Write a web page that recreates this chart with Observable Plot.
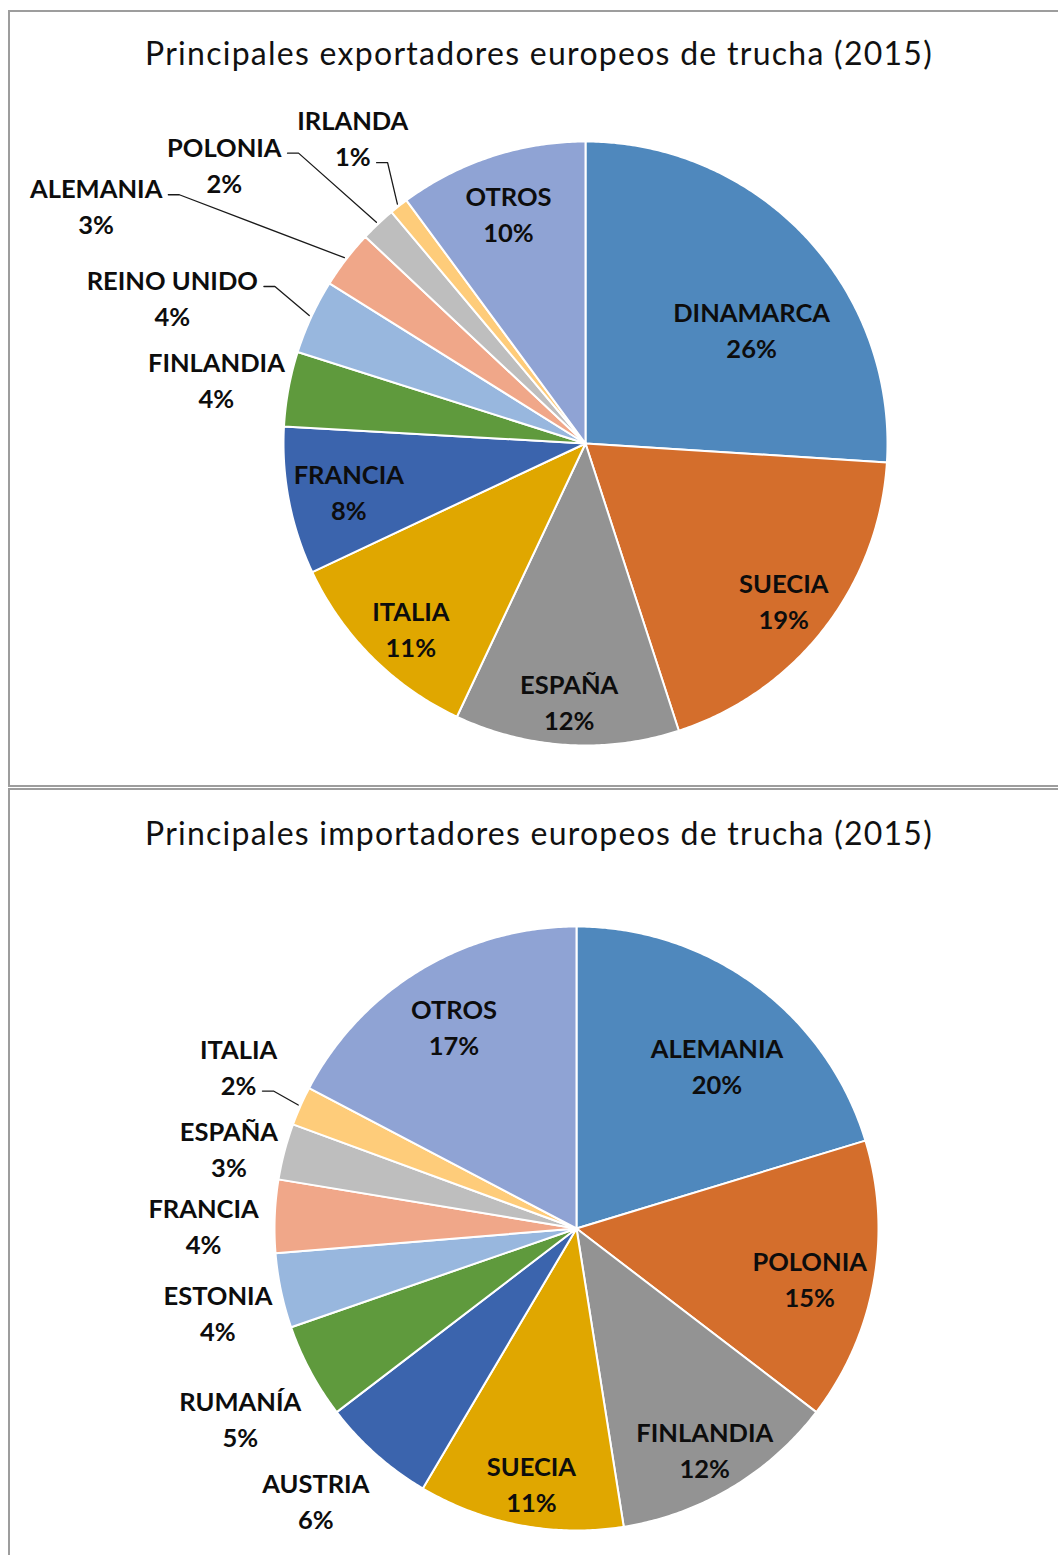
<!DOCTYPE html>
<html>
<head>
<meta charset="utf-8">
<script src="https://cdn.jsdelivr.net/npm/d3@7"></script>
<script src="https://cdn.jsdelivr.net/npm/@observablehq/plot@0.6"></script>
<style>
  html, body { margin: 0; padding: 0; background: #fff; }
  #page { position: relative; width: 1058px; height: 1555px; overflow: hidden; font-family: Lato, "Open Sans", sans-serif; }
  .panel { position: absolute; box-sizing: border-box; border-style: solid; border-color: #9d9d9d; }
  .title { position: absolute; left: 0; width: 1078px; text-align: center; white-space: nowrap; color: #111; font-weight: 400; line-height: 1; }
  .chart { position: absolute; left: 0; }
  .chart svg { display: block; overflow: visible; }
</style>
</head>
<body>
<div id="page"></div>
<script>
// ---------------- DATA ----------------
const expTitle = "Principales exportadores europeos de trucha (2015)";
const expCountries = ["DINAMARCA", "SUECIA", "ESPAÑA", "ITALIA", "FRANCIA", "FINLANDIA", "REINO UNIDO", "ALEMANIA", "POLONIA", "IRLANDA", "OTROS"];
const expShares = [26.0, 19.0, 12.0, 11.0, 7.9, 4.0, 4.0, 3.1, 1.9, 1.0, 10.1];

const impTitle = "Principales importadores europeos de trucha (2015)";
const impCountries = ["ALEMANIA", "POLONIA", "FINLANDIA", "SUECIA", "AUSTRIA", "RUMANÍA", "ESTONIA", "FRANCIA", "ESPAÑA", "ITALIA", "OTROS"];
const impShares = [20.3, 15.1, 12.1, 11.0, 6.1, 5.1, 4.0, 3.9, 3.0, 2.1, 17.3];

// ---------------- STYLE / LAYOUT ----------------
const sliceColors = ["#4F88BD", "#D46E2C", "#939393", "#E0A700", "#3B64AD", "#5F9A3D", "#98B7DE", "#F0A789", "#BEBEBE", "#FECC7A", "#8FA3D4"];
const W = 1058;
const labelFont = { size: 25.5, family: "Lato", weight: "bold", lineGap: 36, dy: -2 };
const titleFont = { size: 32, family: "Lato", targetWidth: 788 };

const panels = [
  {
    countries: expCountries, shares: expShares, title: expTitle,
    boxTop: 10, boxHeight: 777, borders: "2px 0 2px 2px",
    titleBaseline: 65, cx: 585, cy: 443, R: 302,
    labelR:  [0.665, 0.84, 0.86, 0.845, 0.80, 1.24, 1.45, 1.80, 1.51, 1.27, 0.80],
    labelDA: [9, 0.8, 0, -1.8, -0.6, -0.7, -5.5, -11.8, -9, 0.8, -0.4],
    leaderLine: [0, 0, 0, 0, 0, 0, 1, 1, 1, 2, 0]
  },
  {
    countries: impCountries, shares: impShares, title: impTitle,
    boxTop: 788, boxHeight: 800, borders: "2px 0 0 2px",
    titleBaseline: 845, cx: 576, cy: 1228, R: 302,
    labelR:  [0.71, 0.79, 0.85, 0.86, 1.25, 1.28, 1.22, 1.235, 1.18, 1.24, 0.78],
    labelDA: [4.4, 2, 0.8, -0.8, 2.1, -1.3, -1.4, -2.1, -2, 1.6, -0.2],
    leaderLine: [0, 0, 0, 0, 0, 0, 0, 0, 0, 2, 0]
  }
];

const page = document.getElementById("page");
const ctx = document.createElement("canvas").getContext("2d");
const rad = (deg) => deg * Math.PI / 180;

for (const p of panels) {
  // frame
  const box = document.createElement("div");
  box.className = "panel";
  box.style.left = "8px";
  box.style.top = p.boxTop + "px";
  box.style.width = "1100px";
  box.style.height = p.boxHeight + "px";
  box.style.borderWidth = p.borders;
  page.appendChild(box);

  // title (letter-spacing stretched to the reference width)
  ctx.font = `400 ${titleFont.size}px ${titleFont.family}`;
  const tw = ctx.measureText(p.title).width;
  const spacing = (titleFont.targetWidth - tw) / p.title.length;
  const t = document.createElement("div");
  t.className = "title";
  t.style.fontSize = titleFont.size + "px";
  t.style.fontFamily = titleFont.family;
  t.style.letterSpacing = spacing.toFixed(2) + "px";
  t.style.top = (p.titleBaseline - 0.887 * titleFont.size) + "px";
  t.textContent = p.title;
  page.appendChild(t);

  // slices
  const total = d3.sum(p.shares);
  let acc = 0;
  const slices = p.countries.map((c, i) => {
    const a0 = acc / total * 360;
    acc += p.shares[i];
    const a1 = acc / total * 360;
    return { i, country: c, share: p.shares[i], pct: Math.round(p.shares[i] / total * 100), a0, a1, mid: (a0 + a1) / 2, color: sliceColors[i] };
  });

  const polys = [];
  for (const s of slices) {
    polys.push({ i: s.i, x: 0, y: 0, color: s.color });
    const n = Math.max(2, Math.ceil((s.a1 - s.a0) / 0.5));
    for (let k = 0; k <= n; k++) {
      const a = rad(s.a0 + (s.a1 - s.a0) * k / n);
      polys.push({ i: s.i, x: Math.sin(a), y: -Math.cos(a), color: s.color });
    }
    polys.push({ i: s.i, x: 0, y: 0, color: s.color });
  }

  // labels
  const labels = slices.map((s) => {
    const a = rad(s.mid + p.labelDA[s.i]);
    const r = p.labelR[s.i];
    return { i: s.i, x: r * Math.sin(a), y: -r * Math.cos(a), text: `${s.country}\n${s.pct}%`, lines: [s.country, `${s.pct}%`], mid: s.mid };
  });

  // leader lines
  ctx.font = `${labelFont.weight} ${labelFont.size}px ${labelFont.family}`;
  const leaders = [];
  for (const l of labels) {
    const which = p.leaderLine[l.i];
    if (!which) continue;
    const w = ctx.measureText(l.lines[which - 1]).width;
    const lineY = l.y + ((which === 1 ? -labelFont.lineGap / 2 : labelFont.lineGap / 2) + labelFont.dy) / p.R;
    const sx = l.x + (w / 2 + 6) / p.R;
    const sy = lineY + 8 / p.R;
    const a = rad(l.mid);
    leaders.push({ i: l.i, x: sx, y: sy });
    leaders.push({ i: l.i, x: sx + 11 / p.R, y: sy });
    leaders.push({ i: l.i, x: 1.008 * Math.sin(a), y: -1.008 * Math.cos(a) });
  }

  const cyRel = p.cy - p.boxTop;
  const H = p.boxHeight;
  const chart = Plot.plot({
    width: W,
    height: H,
    margin: 0,
    x: { domain: [-p.cx / p.R, (W - p.cx) / p.R], range: [0, W], axis: null },
    y: { domain: [-cyRel / p.R, (H - cyRel) / p.R], range: [0, H], axis: null },
    color: { type: "identity" },
    marks: [
      Plot.line(polys, { x: "x", y: "y", z: "i", fill: "color", stroke: "white", strokeWidth: 2, strokeLinejoin: "round", curve: "linear" }),
      Plot.line(leaders, { x: "x", y: "y", z: "i", stroke: "#1a1a1a", strokeWidth: 1.3, curve: "linear" }),
      Plot.text(labels, {
        x: "x", y: "y", text: "text", dy: labelFont.dy,
        fontSize: labelFont.size, fontWeight: labelFont.weight, fontFamily: labelFont.family,
        lineHeight: labelFont.lineGap / labelFont.size, fill: "#0d0d0d", textAnchor: "middle", lineAnchor: "middle"
      })
    ]
  });
  const holder = document.createElement("div");
  holder.className = "chart";
  holder.style.top = p.boxTop + "px";
  holder.appendChild(chart);
  page.appendChild(holder);
}
</script>
</body>
</html>
